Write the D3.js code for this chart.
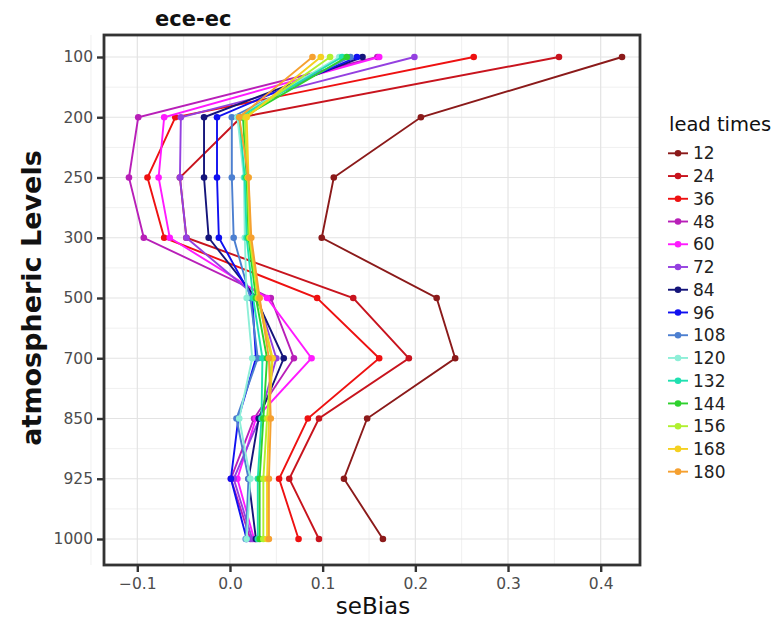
<!DOCTYPE html>
<html>
<head>
<meta charset="utf-8">
<script src="https://cdn.jsdelivr.net/npm/d3@7"></script>
<style>
  body { margin: 0; background: #fff; }
  svg { font-family: "DejaVu Sans", sans-serif; }
</style>
</head>
<body>
<div id="chart"></div>
<script>
// pressure levels (discrete y axis)
const levels = ["100", "200", "250", "300", "500", "700", "850", "925", "1000"];
const leadTimes = ["12", "24", "36", "48", "60", "72", "84", "96", "108", "120", "132", "144", "156", "168", "180"];
const xTicks = [-0.1, 0, 0.1, 0.2, 0.3, 0.4];

// seBias per lead time, one value per level
const lt12  = [0.423, 0.206, 0.112, 0.099, 0.223, 0.243, 0.148, 0.123, 0.165];
const lt24  = [0.355, 0.012, -0.054, -0.047, 0.133, 0.193, 0.096, 0.064, 0.096];
const lt36  = [0.263, -0.059, -0.089, -0.071, 0.094, 0.161, 0.084, 0.053, 0.074];
const lt48  = [0.159, -0.099, -0.109, -0.093, 0.044, 0.069, 0.026, 0.001, 0.022];
const lt60  = [0.161, -0.071, -0.077, -0.065, 0.040, 0.088, 0.028, 0.008, 0.026];
const lt72  = [0.199, -0.053, -0.054, -0.047, 0.030, 0.050, 0.032, 0.004, 0.024];
const lt84  = [0.143, -0.028, -0.028, -0.023, 0.028, 0.058, 0.031, 0.020, 0.028];
const lt96  = [0.137, -0.014, -0.014, -0.012, 0.024, 0.028, 0.009, 0.001, 0.018];
const lt108 = [0.130, 0.002, 0.002, 0.004, 0.022, 0.030, 0.007, 0.020, 0.017];
const lt120 = [0.118, 0.008, 0.015, 0.016, 0.018, 0.024, 0.010, 0.022, 0.018];
const lt132 = [0.121, 0.010, 0.016, 0.018, 0.025, 0.035, 0.034, 0.030, 0.030];
const lt144 = [0.126, 0.014, 0.018, 0.020, 0.028, 0.040, 0.036, 0.032, 0.032];
const lt156 = [0.108, 0.016, 0.019, 0.021, 0.030, 0.045, 0.040, 0.036, 0.036];
const lt168 = [0.098, 0.018, 0.020, 0.022, 0.031, 0.046, 0.042, 0.040, 0.040];
const lt180 = [0.089, 0.010, 0.020, 0.023, 0.032, 0.042, 0.044, 0.042, 0.042];

const colors = ["#8b1a1a", "#c8141e", "#ee1111", "#b81fb8", "#ff1aff", "#9440e0", "#14147a",
  "#1010f0", "#4c7fd0", "#8eefd8", "#1fe0b0", "#2ed12e", "#b0f030", "#f5d020", "#f5a030"];

const allValues = [lt12, lt24, lt36, lt48, lt60, lt72, lt84, lt96, lt108, lt120, lt132, lt144, lt156, lt168, lt180];
const series = leadTimes.map((lt, i) => ({
  name: lt,
  color: colors[i],
  values: levels.map((lv, j) => ({ level: lv, v: allValues[i][j] }))
}));

const W = 778, H = 624;
const panel = { left: 104, right: 640, top: 35, bottom: 565 };

const svg = d3.select("#chart").append("svg").attr("width", W).attr("height", H);

const x = d3.scaleLinear().domain([-0.1, 0.4]).range([137.3, 600.7]);
const y = d3.scalePoint().domain(levels).range([57, 539]);

// grid: minor first, then major
const grid = svg.append("g");
const minorX = [-0.15, -0.05, 0.05, 0.15, 0.25, 0.35];
grid.selectAll(".mx").data(minorX).enter().append("line")
  .attr("x1", d => x(d)).attr("x2", d => x(d))
  .attr("y1", panel.top).attr("y2", panel.bottom)
  .attr("stroke", "#f0f0f0").attr("stroke-width", 1);
const step = y.step();
const minorY = levels.slice(0, -1).map(l => y(l) + step / 2);
grid.selectAll(".my").data(minorY).enter().append("line")
  .attr("x1", panel.left).attr("x2", panel.right)
  .attr("y1", d => d).attr("y2", d => d)
  .attr("stroke", "#f0f0f0").attr("stroke-width", 1);
grid.selectAll(".gx").data(xTicks).enter().append("line")
  .attr("x1", d => x(d)).attr("x2", d => x(d))
  .attr("y1", panel.top).attr("y2", panel.bottom)
  .attr("stroke", "#e3e3e3").attr("stroke-width", 1.2);
grid.selectAll(".gy").data(levels).enter().append("line")
  .attr("x1", panel.left).attr("x2", panel.right)
  .attr("y1", d => y(d)).attr("y2", d => y(d))
  .attr("stroke", "#e3e3e3").attr("stroke-width", 1.2);

// lines + points
const line = d3.line().x(d => x(d.v)).y(d => y(d.level));
const g = svg.append("g");
series.forEach(s => {
  g.append("path").datum(s.values)
    .attr("d", line).attr("fill", "none")
    .attr("stroke", s.color).attr("stroke-width", 1.9);
  g.selectAll(null).data(s.values).enter().append("circle")
    .attr("cx", d => x(d.v)).attr("cy", d => y(d.level))
    .attr("r", 3.3).attr("fill", s.color);
});

// border
svg.append("rect")
  .attr("x", panel.left).attr("y", panel.top)
  .attr("width", panel.right - panel.left).attr("height", panel.bottom - panel.top)
  .attr("fill", "none").attr("stroke", "#333").attr("stroke-width", 2.8);

// axes
const xAxis = svg.append("g").attr("transform", `translate(0,${panel.bottom})`)
  .call(d3.axisBottom(x).tickValues(xTicks).tickSize(6).tickPadding(5)
    .tickFormat(d3.format(".1f")));
const yAxis = svg.append("g").attr("transform", `translate(${panel.left},0)`)
  .call(d3.axisLeft(y).tickSize(6).tickPadding(5));
[xAxis, yAxis].forEach(a => {
  a.select(".domain").remove();
  a.selectAll(".tick line").attr("stroke", "#333").attr("stroke-width", 2.4);
  a.selectAll(".tick text").attr("fill", "#4d4d4d")
    .style("font-family", "'DejaVu Sans', sans-serif").style("font-size", "15.5px");
});
xAxis.selectAll(".tick line").attr("transform", "translate(0,1)");
xAxis.selectAll(".tick text").attr("dy", "0.85em");
yAxis.selectAll(".tick line").attr("transform", "translate(-1,0)");

// titles
svg.append("text").attr("x", 155).attr("y", 26)
  .style("font-size", "21px").style("font-weight", "bold").attr("fill", "#111")
  .text("ece-ec");
svg.append("text").attr("x", 373).attr("y", 614).attr("text-anchor", "middle")
  .style("font-size", "23px").attr("fill", "#111").text("seBias");
svg.append("text")
  .attr("transform", "translate(41,298) rotate(-90)").attr("text-anchor", "middle")
  .style("font-size", "27px").style("font-weight", "bold").attr("fill", "#111")
  .text("atmospheric Levels");

// legend
const leg = svg.append("g").attr("transform", "translate(668,0)");
leg.append("text").attr("x", 1).attr("y", 131).style("font-size", "19.5px").attr("fill", "#111")
  .text("lead times");
const item = leg.selectAll(".item").data(series).enter().append("g")
  .attr("transform", (d, i) => `translate(0,${153.3 + i * 22.74})`);
item.append("line").attr("x1", 0).attr("x2", 20).attr("stroke", d => d.color).attr("stroke-width", 1.9);
item.append("circle").attr("cx", 10).attr("r", 3.3).attr("fill", d => d.color);
item.append("text").attr("x", 25).attr("dy", "0.36em")
  .style("font-size", "17px").attr("fill", "#222").text(d => d.name);
</script>
</body>
</html>
